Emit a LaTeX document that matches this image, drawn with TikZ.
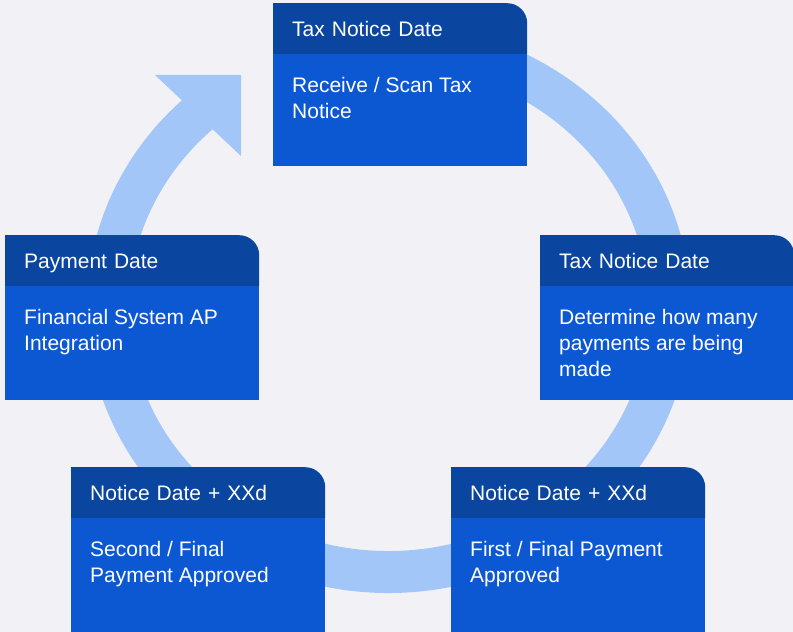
\documentclass[tikz,border=0pt]{standalone}
\usepackage{fontspec}
\setmainfont{Liberation Sans}
\usetikzlibrary{positioning}
\definecolor{headblue}{HTML}{0A45A0}
\definecolor{bodyblue}{HTML}{0B58D2}
\definecolor{ringblue}{HTML}{A3C6F8}
\definecolor{paper}{HTML}{F2F2F6}
\newcommand{\cardtext}[2]{\parbox[t][#1][t]{216pt}{\strut #2}}

\begin{document}
\begin{tikzpicture}[x=1pt,y=1pt]
	\tikzstyle{head}=[anchor=north west, minimum width=254pt, minimum height=51pt,
		inner xsep=19pt, inner ysep=0pt, text width=216pt, align=left,
		text height=18pt, text depth=2pt, text=white, font=\fontsize{21}{26}\selectfont,
		path picture={\fill[headblue] (path picture bounding box.south west)
			-- (path picture bounding box.north west) [rounded corners=20pt]
			-- (path picture bounding box.north east) [sharp corners]
			-- (path picture bounding box.south east) -- cycle;}]
	\tikzstyle{body}=[fill=bodyblue, minimum width=254pt, inner xsep=19pt, inner ysep=20.8pt,
		text=white, font=\fontsize{21}{26}\selectfont]
	\tikzstyle{ring}=[draw=ringblue, line width=42pt]
	\useasboundingbox (0,0) rectangle (793,632);
	\fill[paper] (0,0) rectangle (793,632);
	% the cycle arrow
	\coordinate (hub) at (388.75,324);
	\draw[ring] (hub) ++(100:281pt and 264pt)
		arc[start angle=100, end angle=-229, x radius=281pt, y radius=264pt];
	\fill[ringblue] (155,557) -- (241,557) -- (241,476) -- cycle;
	% steps
	\node[head] (scanhead) at (273,629) {Tax Notice Date};
	\node[body, below=-0.6pt of scanhead] (scanbody) {\cardtext{70.4pt}{Receive / Scan Tax\\Notice}};
	\node[head] (counthead) at (540,397) {Tax Notice Date};
	\node[body, below=-0.6pt of counthead] (countbody) {\cardtext{72.4pt}{Determine how many\\payments are being\\made}};
	\node[head] (firsthead) at (451,165) {Notice Date + XXd};
	\node[body, below=-0.6pt of firsthead] (firstbody) {\cardtext{72.4pt}{First / Final Payment\\Approved}};
	\node[head] (secondhead) at (71,165) {Notice Date + XXd};
	\node[body, below=-0.6pt of secondhead] (secondbody) {\cardtext{72.4pt}{Second / Final\\Payment Approved}};
	\node[head] (payhead) at (5,397) {Payment Date};
	\node[body, below=-0.6pt of payhead] (paybody) {\cardtext{72.4pt}{Financial System AP\\Integration}};
\end{tikzpicture}
\end{document}
